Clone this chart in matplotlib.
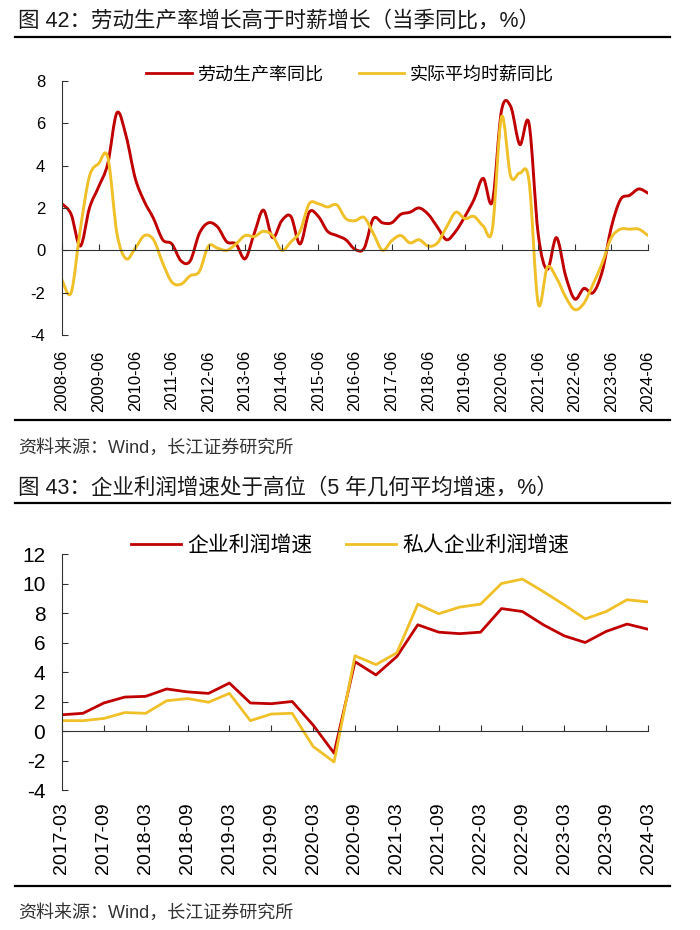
import numpy as np
import matplotlib
matplotlib.use('Agg')
import matplotlib.pyplot as plt
from matplotlib.lines import Line2D
from matplotlib.path import Path
from matplotlib.patches import PathPatch

plt.rcParams['font.family'] = ['Liberation Sans', 'Noto Sans CJK SC']
plt.rcParams['axes.unicode_minus'] = False

RED = '#C00000'
YEL = '#F0C028'
AXC = '#333333'

# 图42：季度数据 2008Q2 - 2024Q2
productivity = [2.2, 1.7, 0.2, 2.0, 3.0, 4.1, 6.5, 5.4, 3.4, 2.3,
                1.5, 0.5, 0.3, -0.5, -0.5, 0.8, 1.3, 1.1, 0.4, 0.3,
                -0.4, 0.8, 1.9, 0.6, 1.4, 1.6, 0.3, 1.8, 1.6, 0.9,
                0.7, 0.5, 0.05, 0.1, 1.5, 1.3, 1.3, 1.7, 1.8, 2.0,
                1.7, 1.1, 0.5, 0.9, 1.6, 2.4, 3.4, 2.3, 6.6, 6.8,
                5.0, 6.0, 0.8, -0.9, 0.6, -1.2, -2.3, -1.8, -2.0, -1.0,
                1.1, 2.4, 2.6, 2.9, 2.7]
hourly_wage = [-1.4, -2.0, 1.0, 3.5, 4.1, 4.4, 0.8, -0.4, 0.1, 0.7,
               0.5, -0.6, -1.5, -1.6, -1.2, -1.0, 0.2, 0.1, 0.0, 0.3,
               0.7, 0.65, 0.9, 0.7, 0.0, 0.4, 0.9, 2.2, 2.2, 2.05,
               2.15, 1.5, 1.4, 1.55, 0.8, 0.0, 0.45, 0.7, 0.35, 0.5,
               0.2, 0.35, 1.1, 1.8, 1.5, 1.6, 1.15, 1.0, 6.3, 3.5,
               3.65, 3.3, -2.5, -0.8, -1.3, -2.2, -2.8, -2.5, -1.6, -0.6,
               0.6, 1.0, 1.0, 1.0, 0.7]
top_ticklabels = [f'{y}-06' for y in range(2008, 2025)]

# 图43：季度数据 2017Q1 - 2024Q1
profit_all = [1.1, 1.2, 1.9, 2.3, 2.35, 2.85, 2.65, 2.55, 3.25, 1.9,
              1.85, 2.0, 0.4, -1.5, 4.7, 3.8, 5.05, 7.2, 6.7, 6.6,
              6.7, 8.3, 8.1, 7.2, 6.45, 6.0, 6.75, 7.25, 6.9]
profit_private = [0.7, 0.7, 0.85, 1.25, 1.2, 2.05, 2.2, 1.95, 2.55, 0.7,
                  1.15, 1.2, -1.05, -2.1, 5.1, 4.5, 5.3, 8.6, 7.95, 8.4,
                  8.6, 10.0, 10.3, 9.45, 8.55, 7.6, 8.1, 8.9, 8.75]
bot_ticklabels = ['2017-03', '2017-09', '2018-03', '2018-09', '2019-03',
                  '2019-09', '2020-03', '2020-09', '2021-03', '2021-09',
                  '2022-03', '2022-09', '2023-03', '2023-09', '2024-03']

fig = plt.figure(figsize=(7, 9.3), dpi=100)
W, H = 700, 930


def fy(py):
    return 1 - py / H


def smooth_line(ax, y, color, lw):
    # Excel-style smoothed line: cubic bezier through every data point
    p = np.column_stack([np.arange(len(y)), np.asarray(y, float)])
    pad = np.vstack([p[0], p, p[-1]])
    verts = [p[0]]
    codes = [Path.MOVETO]
    for i in range(len(p) - 1):
        c1 = pad[i + 1] + (pad[i + 2] - pad[i]) / 6
        c2 = pad[i + 2] - (pad[i + 3] - pad[i + 1]) / 6
        verts += [c1, c2, p[i + 1]]
        codes += [Path.CURVE4] * 3
    ax.add_patch(PathPatch(Path(verts, codes), fill=False, edgecolor=color,
                           lw=lw, capstyle='round', joinstyle='round'))


def style_axes(ax, ticks, labels, ylim, yticks, ysize, xsize, xpad):
    ax.set_ylim(*ylim)
    ax.set_yticks(yticks)
    ax.spines['top'].set_visible(False)
    ax.spines['right'].set_visible(False)
    ax.spines['left'].set_color(AXC)
    ax.spines['bottom'].set_color(AXC)
    ax.spines['bottom'].set_position(('data', 0))
    ax.set_xticks(ticks)
    ax.tick_params(axis='x', direction='in', length=4, color=AXC, labelbottom=False)
    ax.tick_params(axis='y', direction='in', length=4, color=AXC, labelsize=ysize, pad=12)
    sec = ax.secondary_xaxis('bottom')
    sec.spines['bottom'].set_visible(False)
    sec.set_xticks(ticks, labels=labels)
    sec.tick_params(axis='x', length=0, pad=xpad, labelsize=xsize, labelrotation=90)


# ---- 图42 ----
ax1 = fig.add_axes([62 / W, fy(335), 586 / W, (335 - 81) / H])
smooth_line(ax1, productivity, RED, 2.1)
smooth_line(ax1, hourly_wage, YEL, 2.1)
ax1.set_xlim(0, len(productivity) - 1)
style_axes(ax1, np.arange(0, len(productivity), 4), top_ticklabels,
           (-4, 8), np.arange(-4, 9, 2), 12, 12, 11)
ax1.legend([Line2D([], [], color=RED, lw=2), Line2D([], [], color=YEL, lw=2)],
           ['劳动生产率同比', '实际平均时薪同比'],
           loc='center', bbox_to_anchor=(0.5, fy(75)), bbox_transform=fig.transFigure,
           ncol=2, frameon=False, fontsize=13, handlelength=2.5, handletextpad=0.3,
           columnspacing=2.0)

# ---- 图43 ----
ax2 = fig.add_axes([62 / W, fy(790), 586 / W, (790 - 554) / H])
x2 = np.arange(len(profit_all))
ax2.plot(x2, profit_all, color=RED, lw=2, label='企业利润增速')
ax2.plot(x2, profit_private, color=YEL, lw=2, label='私人企业利润增速')
ax2.set_xlim(0, len(profit_all) - 1)
style_axes(ax2, np.arange(0, len(profit_all), 2), bot_ticklabels,
           (-4, 12), np.arange(-4, 13, 2), 15, 14, 9)
ax2.legend(loc='center', bbox_to_anchor=(0.5, fy(545)), bbox_transform=fig.transFigure,
           ncol=2, frameon=False, fontsize=15, handlelength=2.4, handletextpad=0.3,
           columnspacing=1.6)

# ---- titles, rules, sources ----
fig.text(18 / W, fy(21), '图 42：劳动生产率增长高于时薪增长（当季同比，%）',
         fontsize=15.5, color='#1a1a1a', va='center', ha='left')
fig.text(18 / W, fy(448), '资料来源：Wind，长江证券研究所',
         fontsize=13, color='#333333', va='center', ha='left')
fig.text(18 / W, fy(488), '图 43：企业利润增速处于高位（5 年几何平均增速，%）',
         fontsize=15.5, color='#1a1a1a', va='center', ha='left')
fig.text(18 / W, fy(913), '资料来源：Wind，长江证券研究所',
         fontsize=13, color='#333333', va='center', ha='left')
for py in (37, 420, 503, 886):
    fig.add_artist(Line2D([15 / W, 670 / W], [fy(py), fy(py)], color='black', lw=1.6))

fig.savefig('out.png', dpi=100)
